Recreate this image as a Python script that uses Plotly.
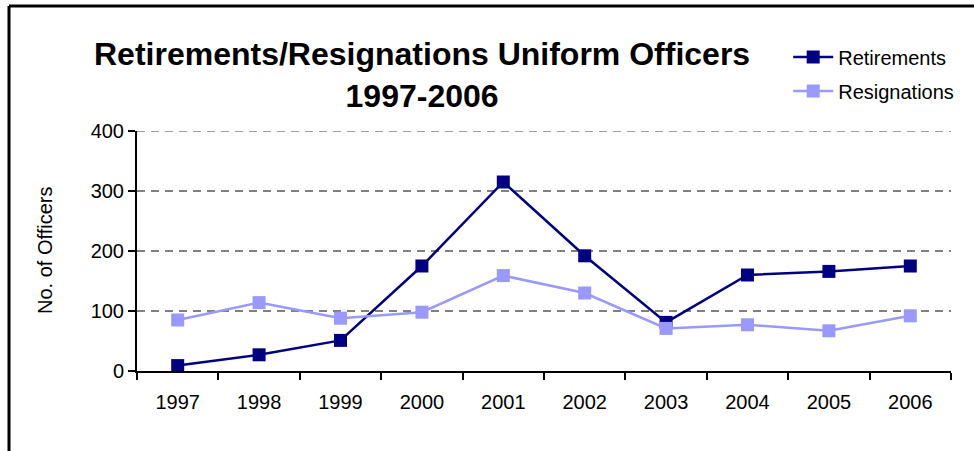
import plotly.graph_objects as go

years = ["1997", "1998", "1999", "2000", "2001", "2002", "2003", "2004", "2005", "2006"]
retirements = [9, 27, 51, 175, 315, 192, 81, 160, 166, 175]
resignations = [85, 114, 88, 98, 159, 130, 71, 77, 67, 92]
y_ticks = [0, 100, 200, 300, 400]

FONT = "Liberation Sans, Arial, sans-serif"
GRID = dict(color="#808080", width=1.5, dash="8px,6px")

fig = go.Figure()
fig.add_trace(go.Scatter(
    x=years, y=retirements, name="Retirements", mode="lines+markers",
    legendgroup="ret",
    line=dict(color="#000080", width=2.5),
    marker=dict(symbol="square", size=13, color="#000080"),
    cliponaxis=False,
))
fig.add_trace(go.Scatter(
    x=years, y=resignations, name="Resignations", mode="lines+markers",
    legendgroup="res",
    line=dict(color="#9999FF", width=2.5),
    marker=dict(symbol="square", size=13, color="#9999FF"),
    cliponaxis=False,
))

fig.update_layout(
    width=974, height=451,
    margin=dict(l=137, r=23, t=131, b=80),
    paper_bgcolor="white", plot_bgcolor="white",
    font=dict(family=FONT, size=20, color="black"),
    showlegend=True,
    legend=dict(
        x=0.80, y=1.39, xanchor="left", yanchor="top",
        font=dict(size=20), bgcolor="rgba(0,0,0,0)",
        itemwidth=40, tracegroupgap=5,
    ),
    xaxis=dict(
        type="category", showgrid=False, showline=True, linecolor="black", linewidth=2,
        ticks="outside", tickson="boundaries", ticklen=7, tickwidth=2, tickcolor="black",
        range=[-0.5, 9.5], tickfont=dict(size=20), ticklabelstandoff=12,
    ),
    yaxis=dict(
        range=[0, 400], tickvals=y_ticks, showline=True, linecolor="black", linewidth=2,
        ticks="outside", ticklen=7, tickwidth=2, tickcolor="black",
        showgrid=True, gridcolor=GRID["color"], griddash=GRID["dash"], gridwidth=GRID["width"],
        zeroline=False, tickfont=dict(size=20),
    ),
    annotations=[
        dict(text="<b>Retirements/Resignations Uniform Officers<br>1997-2006</b>",
             xref="paper", yref="paper", x=(422 - 137) / 814, y=(371 - 75) / 240,
             xanchor="center", yanchor="middle", showarrow=False,
             font=dict(size=32, family=FONT), align="center"),
        dict(text="No. of Officers", textangle=-90,
             xref="paper", yref="paper", x=(45 - 137) / 814, y=(371 - 251) / 240,
             xanchor="center", yanchor="middle", showarrow=False,
             font=dict(size=20, family=FONT)),
    ],
    shapes=[
        # top gridline sits on the plot edge, so draw it explicitly
        dict(type="line", xref="paper", yref="y", layer="below",
             x0=0, x1=1, y0=y_ticks[-1], y1=y_ticks[-1], line=GRID),
        # outer frame
        dict(type="line", xref="paper", yref="paper", layer="above",
             x0=(9 - 137) / 814, x1=(9 - 137) / 814, y0=(371 - 6) / 240, y1=-0.5,
             line=dict(color="black", width=3)),
        dict(type="line", xref="paper", yref="paper", layer="above",
             x0=(9 - 137) / 814, x1=1.1, y0=(371 - 6) / 240, y1=(371 - 6) / 240,
             line=dict(color="black", width=3)),
    ],
)

fig.write_html("out.html")
